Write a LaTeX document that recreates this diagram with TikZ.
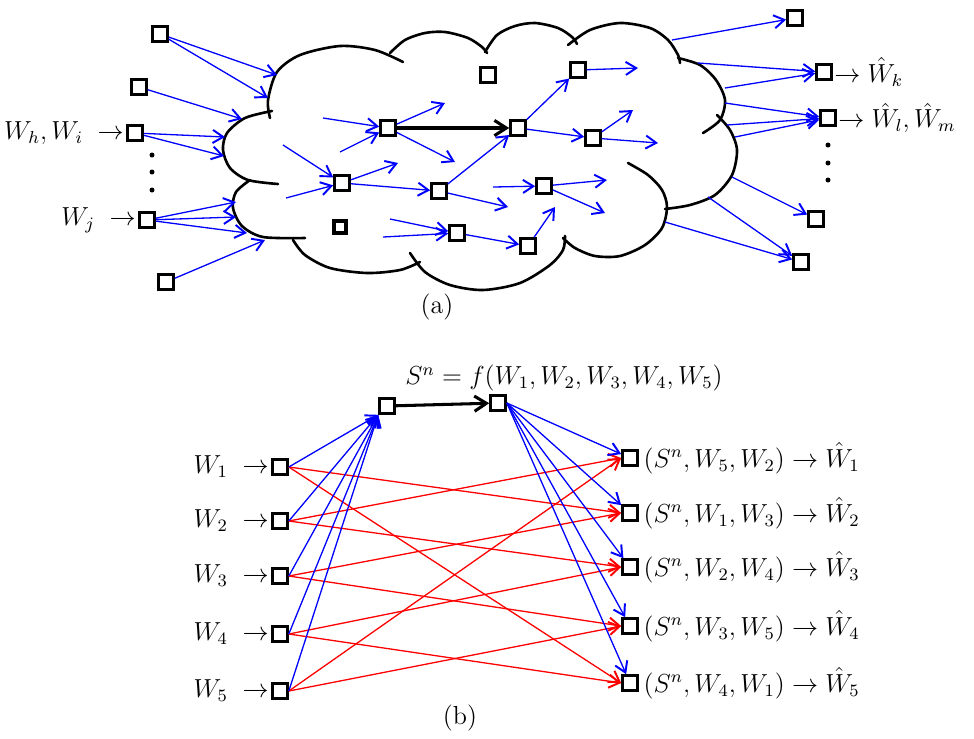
\documentclass[tikz,border=0pt]{standalone}
\usepackage{amsmath}
\usetikzlibrary{arrows.meta,positioning}

\begin{document}
\begin{tikzpicture}[x=0.46pt,y=-0.46pt,font=\large,
    box/.style={draw,fill=white,line width=1.5pt,minimum size=6.6pt,inner sep=0pt},
    blu/.style={blue,line width=0.6pt,-{Straight Barb[length=4.8pt,width=6pt,line width=0.9pt]}},
    rd/.style={red,line width=0.6pt,-{Straight Barb[length=4.8pt,width=6pt,line width=0.9pt]}},
    big/.style={black,line width=1.4pt,-{Straight Barb[length=5.5pt,width=7pt,line width=1.4pt]}},
    bump/.style={line width=1.2pt,line cap=round}]
  \useasboundingbox (0,0) rectangle (974,738);

  % (a) the cloud
  \draw[bump] plot[smooth] coordinates {(270,118) (268,100) (277,72) (300,55) (340,46) (375,50) (403,62)};
  \draw[bump] plot[smooth] coordinates {(390,53) (405,40) (425,33) (445,32) (468,38) (482,47) (487,53)};
  \draw[bump] plot[smooth] coordinates {(485,52) (497,35) (515,26) (535,23) (558,28) (572,37) (577,44)};
  \draw[bump] plot[smooth] coordinates {(568,45) (590,30) (620,23) (650,28) (668,40) (678,55) (680,63)};
  \draw[bump] plot[smooth] coordinates {(678,58) (700,65) (716,80) (725,100) (720,120) (703,133)};
  \draw[bump] plot[smooth] coordinates {(717,115) (730,130) (737,150) (732,175) (715,195) (690,205) (665,209)};
  \draw[bump] plot[smooth] coordinates {(628,163) (648,175) (662,190) (667,207) (662,228) (645,245) (620,256) (595,256) (575,248) (563,238)};
  \draw[bump] plot[smooth] coordinates {(410,253) (425,272) (450,285) (483,290) (520,283) (550,265) (563,250) (565,236)};
  \draw[bump] plot[smooth] coordinates {(293,240) (305,255) (330,268) (367,273) (400,270) (420,262)};
  \draw[bump] plot[smooth] coordinates {(250,180) (236,192) (233,208) (242,226) (263,237) (305,238)};
  \draw[bump] plot[smooth] coordinates {(272,111) (245,118) (227,133) (223,150) (230,168) (248,180) (278,184)};

  % (a) nodes
  \node[box] (l1) at (160,34) {};
  \node[box] (l2) at (139,87) {};
  \node[box] (l3) at (135,133) {};
  \node[box] (l4) at (147,220) {};
  \node[box] (l5) at (166,282) {};
  \node[anchor=east,inner sep=1pt] (lhi) at (l3.west) {$W_h, W_i \;\rightarrow$};
  \node[anchor=east,inner sep=1pt] (lj) at (l4.west) {$W_j \;\rightarrow$};
  \foreach \y in {155,172,190} \fill (152,\y) circle (1.15pt);

  \node[box] (n1) at (388,128) {};
  \node[box] (n2) at (518,128) {};
  \node[box] (n3) at (578,70) {};
  \node[box] (n4) at (488,75) {};
  \node[box] (n5) at (593,138) {};
  \node[box] (n6) at (342,183) {};
  \node[box] (n7) at (439,191) {};
  \node[box] (n8) at (544,186) {};
  \node[box,minimum size=5.6pt] (n9) at (340,227) {};
  \node[box] (n10) at (457,233) {};
  \node[box] (n11) at (528,246) {};

  \node[box] (r1) at (795,18) {};
  \node[box] (r2) at (824,72) {};
  \node[box] (r3) at (828,118) {};
  \node[box] (r4) at (816,219) {};
  \node[box] (r5) at (801,262) {};
  \node[anchor=west,inner sep=0.5pt] (lk) at (r2.east) {$\rightarrow \hat{W}_k$};
  \node[anchor=west,inner sep=0.5pt] (llm) at (r3.east) {$\rightarrow \hat{W}_l, \hat{W}_m$};
  \foreach \y in {145,163,180} \fill (828,\y) circle (1.15pt);

  % (a) free ends
  \coordinate (c1) at (277,75);  \coordinate (c2) at (268,98);
  \coordinate (c3) at (242,119); \coordinate (c4) at (225,137);
  \coordinate (c5) at (224,156); \coordinate (c6) at (236,202);
  \coordinate (c7) at (236,217); \coordinate (c8) at (247,233);
  \coordinate (c9) at (265,240);
  \coordinate (i1) at (323,118); \coordinate (i2) at (340,152);
  \coordinate (i3) at (283,145); \coordinate (i4) at (286,198);
  \coordinate (i5) at (493,187); \coordinate (i6) at (390,219);
  \coordinate (i7) at (383,237);
  \coordinate (o1) at (445,103); \coordinate (o2) at (455,162);
  \coordinate (o3) at (398,163); \coordinate (o4) at (508,207);
  \coordinate (o5) at (638,68);  \coordinate (o6) at (633,110);
  \coordinate (o7) at (658,143); \coordinate (o8) at (607,180);
  \coordinate (o9) at (605,213); \coordinate (o10) at (555,207);
  \coordinate (e1) at (672,40);  \coordinate (e2) at (698,63);
  \coordinate (e3) at (725,88);  \coordinate (e4) at (725,103);
  \coordinate (e5) at (727,125); \coordinate (e6) at (735,137);
  \coordinate (e7) at (732,177); \coordinate (e8) at (708,197);
  \coordinate (e9) at (665,222);

  \path[blu]
    (l1) edge (c1) (l1) edge (c2) (l2) edge (c3)
    (l3) edge (c4) (l3) edge (c5)
    (l4) edge (c6) (l4) edge (c7) (l4) edge (c8) (l5) edge (c9)
    (i1) edge (n1) (i2) edge (n1) (n1) edge (o1) (n1) edge (o2)
    (i3) edge (n6) (i4) edge (n6) (n6) edge (o3) (n6) edge (n7)
    (n7) edge (n2) (n7) edge (o4)
    (n2) edge (n3) (n2) edge (n5) (n3) edge (o5)
    (n5) edge (o6) (n5) edge (o7)
    (i5) edge (n8) (n8) edge (o8) (n8) edge (o9)
    (i6) edge (n10) (i7) edge (n10) (n10) edge (n11) (n11) edge (o10)
    (e1) edge (r1) (e2) edge (r2) (e3) edge (r2)
    (e4) edge (r3) (e5) edge (r3) (e6) edge (r3)
    (e7) edge (r4) (e8) edge (r5) (e9) edge (r5);
  \path[big] (n1) edge (n2);
  \node (capa) at (437,307) {(a)};

  % (b)
  \node[box] (s1) at (387,406) {};
  \node[box] (s2) at (498,403) {};
  \node (sf) at (564,378) {$S^n = f(W_1, W_2, W_3, W_4, W_5)$};
  \foreach \i/\y in {1/467,2/521,3/576,4/634,5/691} {
    \node[box] (w\i) at (280,\y) {};
    \node[anchor=east,inner sep=1pt] (wl\i) at (w\i.west) {$W_\i \;\rightarrow$};
  }
  \foreach \i/\y/\a/\b in {1/458/5/2,2/513/1/3,3/567/2/4,4/626/3/5,5/683/4/1} {
    \node[box] (d\i) at (630,\y) {};
    \node[anchor=west,inner sep=0.5pt,xshift=1.5pt] (dl\i) at (d\i.east) {$(S^n, W_\a, W_\b) \rightarrow \hat{W}_\i$};
  }
  \path[rd] \foreach \i/\a/\b in {1/5/2,2/1/3,3/2/4,4/3/5,5/4/1} {
    (w\a.east) edge (d\i.west) (w\b.east) edge (d\i.west)};
  \path[blu] \foreach \i in {1,...,5} {
    (w\i.east) edge (s1.south west) (s2.east) edge (d\i)};
  \path[big] (s1) edge (s2);
  \node (capb) at (460,718) {(b)};
\end{tikzpicture}
\end{document}
